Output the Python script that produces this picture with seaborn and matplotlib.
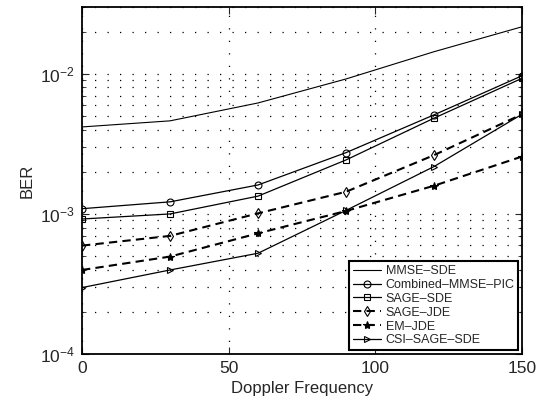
import pandas as pd
import matplotlib.pyplot as plt
import matplotlib.ticker as mticker
import seaborn as sns

# --- データ ---
doppler = [0, 30, 60, 90, 120, 150]

mmse_sde = [4.18e-3, 4.62e-3, 6.2e-3, 9.2e-3, 1.44e-2, 2.17e-2]
combined_mmse_pic = [1.09e-3, 1.22e-3, 1.61e-3, 2.74e-3, 5.1e-3, 9.7e-3]
sage_sde = [9.2e-4, 1.0e-3, 1.34e-3, 2.43e-3, 4.83e-3, 9.3e-3]
sage_jde = [5.94e-4, 6.97e-4, 1.01e-3, 1.44e-3, 2.63e-3, 5.15e-3]
em_jde = [3.98e-4, 4.96e-4, 7.27e-4, 1.05e-3, 1.59e-3, 2.57e-3]
csi_sage_sde = [2.98e-4, 3.98e-4, 5.24e-4, 1.06e-3, 2.18e-3, 5.15e-3]

series_names = ['MMSE\u2013SDE', 'Combined\u2013MMSE\u2013PIC', 'SAGE\u2013SDE',
                'SAGE\u2013JDE', 'EM\u2013JDE', 'CSI\u2013SAGE\u2013SDE']
series_values = [mmse_sde, combined_mmse_pic, sage_sde, sage_jde, em_jde, csi_sage_sde]

# 線のスタイル (marker, linestyle, linewidth, marker size, filled)
styles = [
    (None, '-', 0.8, 0, False),
    ('o', '-', 0.9, 5, False),
    ('s', '-', 0.9, 4, False),
    ('d', (0, (4, 2.5)), 1.5, 5, False),
    ('*', (0, (4, 2.5)), 1.5, 6, True),
    ('>', '-', 0.9, 5, False),
]

sns.set_style('ticks')
plt.rcParams['font.family'] = ['Liberation Sans', 'DejaVu Sans']
plt.rcParams['mathtext.fontset'] = 'custom'
plt.rcParams['mathtext.rm'] = 'Liberation Sans'

fig = plt.figure(figsize=(5.41, 4.15), dpi=100)
ax = fig.add_axes([0.1516, 0.147, 0.8134, 0.836])

rows = []
for name, vals in zip(series_names, series_values):
    for x, y in zip(doppler, vals):
        rows.append({'Doppler': x, 'BER': y, 'Method': name})
df = pd.DataFrame(rows)

for name, (mk, ls, lw, ms, filled) in zip(series_names, styles):
    sub = df[df['Method'] == name]
    sns.lineplot(data=sub, x='Doppler', y='BER', ax=ax, color='black',
                 linestyle=ls, linewidth=lw, marker=mk, markersize=ms,
                 markerfacecolor='black' if filled else 'none',
                 markeredgecolor='black', markeredgewidth=0.8,
                 label=name, errorbar=None)

ax.set_yscale('log')
ax.set_xlim(0, 150)
ax.set_ylim(1e-4, 3e-2)
ax.set_xticks([0, 50, 100, 150])
ax.yaxis.set_major_locator(mticker.LogLocator(base=10, numticks=10))
ax.yaxis.set_minor_locator(mticker.LogLocator(base=10, subs=range(2, 10), numticks=20))
ax.yaxis.set_minor_formatter(mticker.NullFormatter())

# グリッド (MATLAB 風の点線)
grid_ls = (0, (1, 9))
ax.grid(which='major', axis='both', color='black', linestyle=grid_ls, linewidth=0.9)
ax.grid(which='minor', axis='y', color='black', linestyle=grid_ls, linewidth=0.9)

ax.tick_params(which='both', direction='in', top=True, right=True, labelsize=12.5, pad=5)
ax.tick_params(which='major', length=5, width=0.8)
ax.tick_params(which='minor', length=3, width=0.6)
for sp in ax.spines.values():
    sp.set_linewidth(1.3)
    sp.set_color('black')

ax.set_xlabel('Doppler Frequency', fontsize=12, labelpad=4)
ax.set_ylabel('BER', fontsize=12, labelpad=4)

leg = ax.legend(loc='lower right', fontsize=9, frameon=True, fancybox=False,
                borderpad=0.3, labelspacing=0.15, handlelength=2.2,
                handletextpad=0.4, borderaxespad=0.3)
leg.get_frame().set_edgecolor('black')
leg.get_frame().set_linewidth(1.5)
leg.get_frame().set_alpha(1)

plt.savefig('out.png', dpi=100)
